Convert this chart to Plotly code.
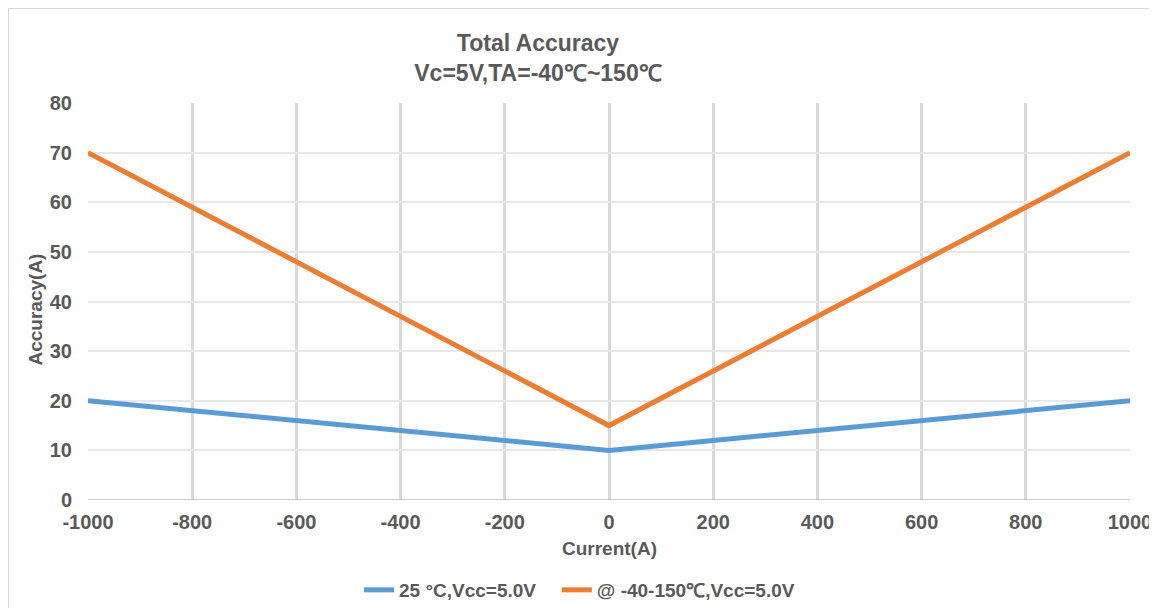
import plotly.graph_objects as go

current = [-1000, -800, -600, -400, -200, 0, 200, 400, 600, 800, 1000]
acc_25c = [20, 18, 16, 14, 12, 10, 12, 14, 16, 18, 20]
acc_full = [70, 59, 48, 37, 26, 15, 26, 37, 48, 59, 70]
series_names = ["25 °C,Vcc=5.0V", "@ -40-150℃,Vcc=5.0V"]
x_ticks = [-1000, -800, -600, -400, -200, 0, 200, 400, 600, 800, 1000]
y_ticks = [0, 10, 20, 30, 40, 50, 60, 70, 80]

# page has an 8px body margin, so the figure is drawn from (8, 8)
W, H = 1149, 600
ML, MR, MT, MB = 80, 27, 95, 108
PW, PH = W - ML - MR, H - MT - MB
font_c = "#595959"
fam = "Liberation Sans, Arial, sans-serif"

fig = go.Figure()
fig.add_trace(go.Scatter(x=current, y=acc_25c, mode="lines",
                         name="<b>" + series_names[0] + "</b>&nbsp;&nbsp;&nbsp;",
                         line=dict(color="#5b9bd5", width=5)))
fig.add_trace(go.Scatter(x=current, y=acc_full, mode="lines",
                         name="<b>" + series_names[1] + "</b>",
                         line=dict(color="#ed7d31", width=5)))

fig.update_layout(
    width=W, height=H,
    margin=dict(l=ML, r=MR, t=MT, b=MB, autoexpand=False),
    paper_bgcolor="white", plot_bgcolor="white",
    font=dict(family=fam, color=font_c, size=16),
    title=dict(text="<b>Total Accuracy</b><br><b>Vc=5V,TA=-40℃~150℃</b>",
               x=530 / W, xanchor="center", xref="container",
               y=1 - 43 / H, yanchor="middle", yref="container",
               font=dict(size=23, color=font_c, family=fam)),
    xaxis=dict(range=[-1000, 1000], tickvals=x_ticks, ticktext=[f"<b>{v}</b>" for v in x_ticks],
               showgrid=True, gridcolor="#d9d9d9", gridwidth=3, automargin=False,
               zeroline=False, showline=False, ticks="", ticklabelstandoff=8,
               tickfont=dict(size=20, color=font_c)),
    yaxis=dict(range=[0, 80], tickvals=y_ticks, ticktext=[f"<b>{v}</b>" for v in y_ticks],
               showgrid=True, gridcolor="#e8e8e8", gridwidth=1.5, automargin=False,
               zeroline=False, showline=False, ticks="", ticklabelstandoff=15,
               tickfont=dict(size=20, color=font_c)),
    legend=dict(orientation="h", x=(357 - 80 - 6) / PW, xanchor="left",
                y=18 / H, yanchor="middle", yref="container",
                font=dict(size=19, color=font_c), traceorder="normal"),
    showlegend=True,
)

# axis titles
fig.add_annotation(text="<b>Current(A)</b>", xref="paper", yref="paper", x=0.5, y=0,
                   yanchor="middle", yshift=-48, showarrow=False,
                   font=dict(size=19, color=font_c))
fig.add_annotation(text="<b>Accuracy(A)</b>", xref="paper", yref="paper", x=0, y=0.5,
                   xanchor="center", yanchor="middle", xshift=27 - ML, yshift=-8,
                   textangle=-90, showarrow=False, font=dict(size=19, color=font_c))

# bottom axis line at y=0
fig.add_shape(type="line", xref="x", yref="y", x0=-1000, x1=1000, y0=0, y1=0,
              line=dict(color="#bfbfbf", width=1.5), layer="above")
# outer chart border (top and left visible)
fig.add_shape(type="line", xref="paper", yref="paper",
              x0=-ML / PW, x1=(W - ML) / PW, y0=1 + MT / PH, y1=1 + MT / PH,
              line=dict(color="#d9d9d9", width=2))
fig.add_shape(type="line", xref="paper", yref="paper",
              x0=-ML / PW, x1=-ML / PW, y0=1 + MT / PH, y1=-MB / PH,
              line=dict(color="#d9d9d9", width=2))

fig.write_html("out.html")
